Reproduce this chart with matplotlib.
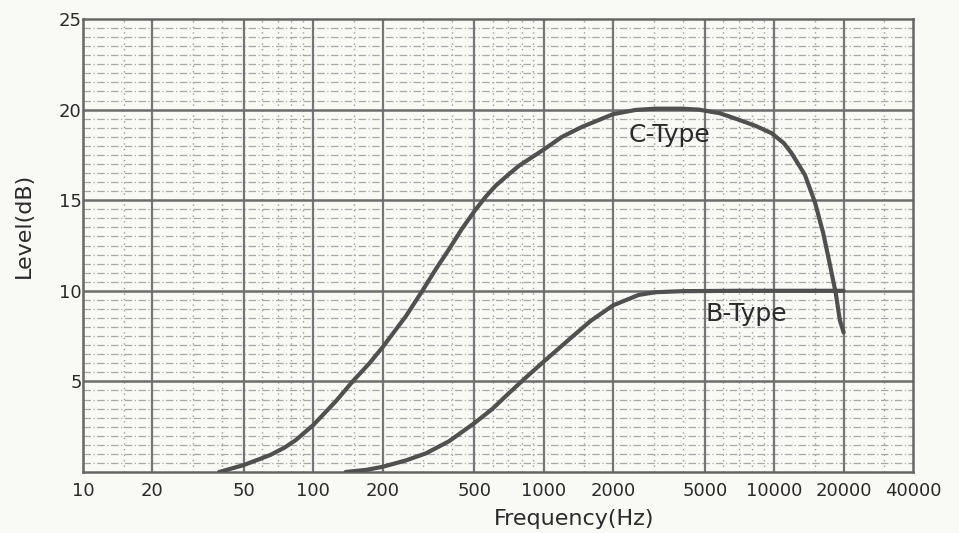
import matplotlib
matplotlib.use("Agg")
import matplotlib.pyplot as plt
import numpy as np
from matplotlib.ticker import FixedLocator, NullFormatter

plt.rcParams['font.family'] = ['DejaVu Sans']

# Data
x_ticks = [10, 20, 50, 100, 200, 500, 1000, 2000, 5000, 10000, 20000, 40000]
x_tick_labels = ["10", "20", "50", "100", "200", "500", "1000", "2000", "5000", "10000", "20000", "40000"]
y_ticks = [5, 10, 15, 20, 25]

c_freq = [39, 50, 65, 75, 84, 100, 125, 148, 175, 200, 252, 297, 340, 388, 440, 500, 560, 618, 700, 780,
          1000, 1200, 1466, 2000, 2500, 3040, 4000, 4690, 5800, 6980, 8300, 9730, 11000, 11880, 13580, 15000,
          16300, 17400, 18500, 19240, 20000]
c_level = [0, 0.39, 0.94, 1.35, 1.77, 2.6, 3.9, 5.0, 6.0, 6.9, 8.6, 10.0, 11.2, 12.3, 13.4, 14.4, 15.2, 15.8,
           16.4, 16.9, 17.8, 18.5, 19.05, 19.75, 19.98, 20.05, 20.05, 20.0, 19.8, 19.45, 19.1, 18.7, 18.15,
           17.6, 16.4, 14.9, 13.2, 11.5, 9.85, 8.4, 7.7]

b_freq = [138, 170, 200, 252, 308, 388, 500, 600, 705, 850, 1000, 1283, 1600, 2000, 2577, 3040, 4000, 7000,
          12000, 20000]
b_level = [0, 0.12, 0.29, 0.64, 1.03, 1.7, 2.7, 3.5, 4.35, 5.3, 6.1, 7.3, 8.35, 9.2, 9.77, 9.92, 9.98, 10.0,
           10.0, 10.0]

bg = '#f9f9f6'
fig = plt.figure(figsize=(9.59, 5.33), dpi=100, facecolor=bg)
ax = fig.add_axes([83/959, 1-472/533, (913-83)/959, (472-19)/533])
ax.set_facecolor(bg)
ax.set_xscale('log')
ax.set_xlim(10, 40000)
ax.set_ylim(0, 25)

# grid
minor_v = []
for dec in [10, 100, 1000, 10000]:
    for m in [1.5, 3, 4, 6, 7, 8, 9]:
        v = dec * m
        if v < 40000:
            minor_v.append(v)
for v in minor_v:
    ax.axvline(v, color='#9a9a9a', lw=1.0, ls=(0, (1, 3)), zorder=1)
for y in np.arange(0.5, 25, 0.5):
    if y % 5 != 0:
        ax.axhline(y, color='#a8a8a8', lw=0.9, ls=(0, (6, 2, 1, 2)), zorder=1)
for v in x_ticks[1:-1]:
    ax.axvline(v, color='#767676', lw=1.6, zorder=2)
for y in y_ticks[:-1]:
    ax.axhline(y, color='#6e6e6e', lw=1.8, zorder=2)

ax.plot(c_freq, c_level, color='#505050', lw=3.0, zorder=5, solid_capstyle='round', solid_joinstyle='round')
ax.plot(b_freq, b_level, color='#505050', lw=3.0, zorder=5, solid_capstyle='round', solid_joinstyle='round')

fig.text(669/959, 1-135/533, "C-Type", fontsize=18, color='#2a2a2a', ha='center', va='center')
fig.text(746/959, 1-314/533, "B-Type", fontsize=18, color='#2a2a2a', ha='center', va='center')

ax.xaxis.set_major_locator(FixedLocator(x_ticks))
ax.set_xticklabels(x_tick_labels)
ax.xaxis.set_minor_locator(FixedLocator([]))
ax.xaxis.set_minor_formatter(NullFormatter())
ax.set_yticks(y_ticks)
ax.tick_params(axis='both', length=0, labelsize=13, colors='#2a2a2a', pad=7)
ax.tick_params(axis='y', pad=1)

for s in ax.spines.values():
    s.set_color('#666666')
    s.set_linewidth(1.8)

fig.text(574/959, 1-519/533, "Frequency(Hz)", fontsize=16, color='#2a2a2a', ha='center', va='center')
fig.text(24/959, 1-225/533, "Level(dB)", fontsize=16, color='#2a2a2a', ha='center', va='center',
         rotation=90)

fig.savefig("out.png", dpi=100, facecolor=bg)
